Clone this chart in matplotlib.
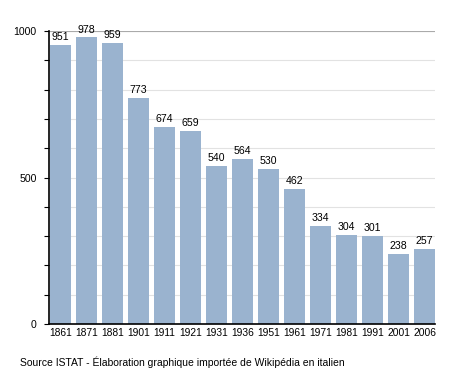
import matplotlib
matplotlib.use("Agg")
import matplotlib.pyplot as plt
import numpy as np

years = ["1861", "1871", "1881", "1901", "1911", "1921", "1931", "1936",
         "1951", "1961", "1971", "1981", "1991", "2001", "2006"]
population = [951, 978, 959, 773, 674, 659, 540, 564, 530, 462, 334, 304, 301, 238, 257]
source_text = "Source ISTAT - Élaboration graphique importée de Wikipédia en italien"

plt.rcParams['font.family'] = ['Liberation Sans', 'DejaVu Sans']

fig = plt.figure(figsize=(4.64, 3.73), dpi=100)
ax = fig.add_axes([49/464, 1-324/373, (435-49)/464, (324-31)/373])

x = np.arange(len(years))
ax.bar(x, population, width=0.8, color="#9ab3cf", zorder=2)
for xi, v in zip(x, population):
    ax.text(xi, v + 10, str(v), ha="center", va="bottom", fontsize=7.6, color="black")

ax.set_xlim(-0.44, 14.4)
ax.set_ylim(0, 1000)
ax.set_xticks(x)
ax.set_xticklabels(years, fontsize=7.4)
ax.tick_params(axis="x", length=0, pad=3)
ax.set_yticks([0, 500, 1000])
ax.set_yticklabels(["0", "500", "1000"], fontsize=7.6)
ax.set_yticks(np.arange(0, 1001, 100), minor=True)
ax.tick_params(axis="y", which="both", length=3.8, width=0.8, direction="out", pad=5)
ax.grid(axis="y", which="both", color="#e2e2e2", linewidth=0.8, zorder=0)
ax.set_axisbelow(True)
for s in ["top", "right"]:
    ax.spines[s].set_visible(False)
ax.spines["left"].set_color("black")
ax.spines["bottom"].set_color("black")
ax.spines["left"].set_linewidth(1.2)
ax.spines["bottom"].set_linewidth(1.2)
ax.axhline(1000, color="#aaaaaa", linewidth=0.8, zorder=1)

fig.text(20/464, 1-362/373, source_text, fontsize=7.45, ha="left", va="center")

fig.savefig("out.png", dpi=100)
